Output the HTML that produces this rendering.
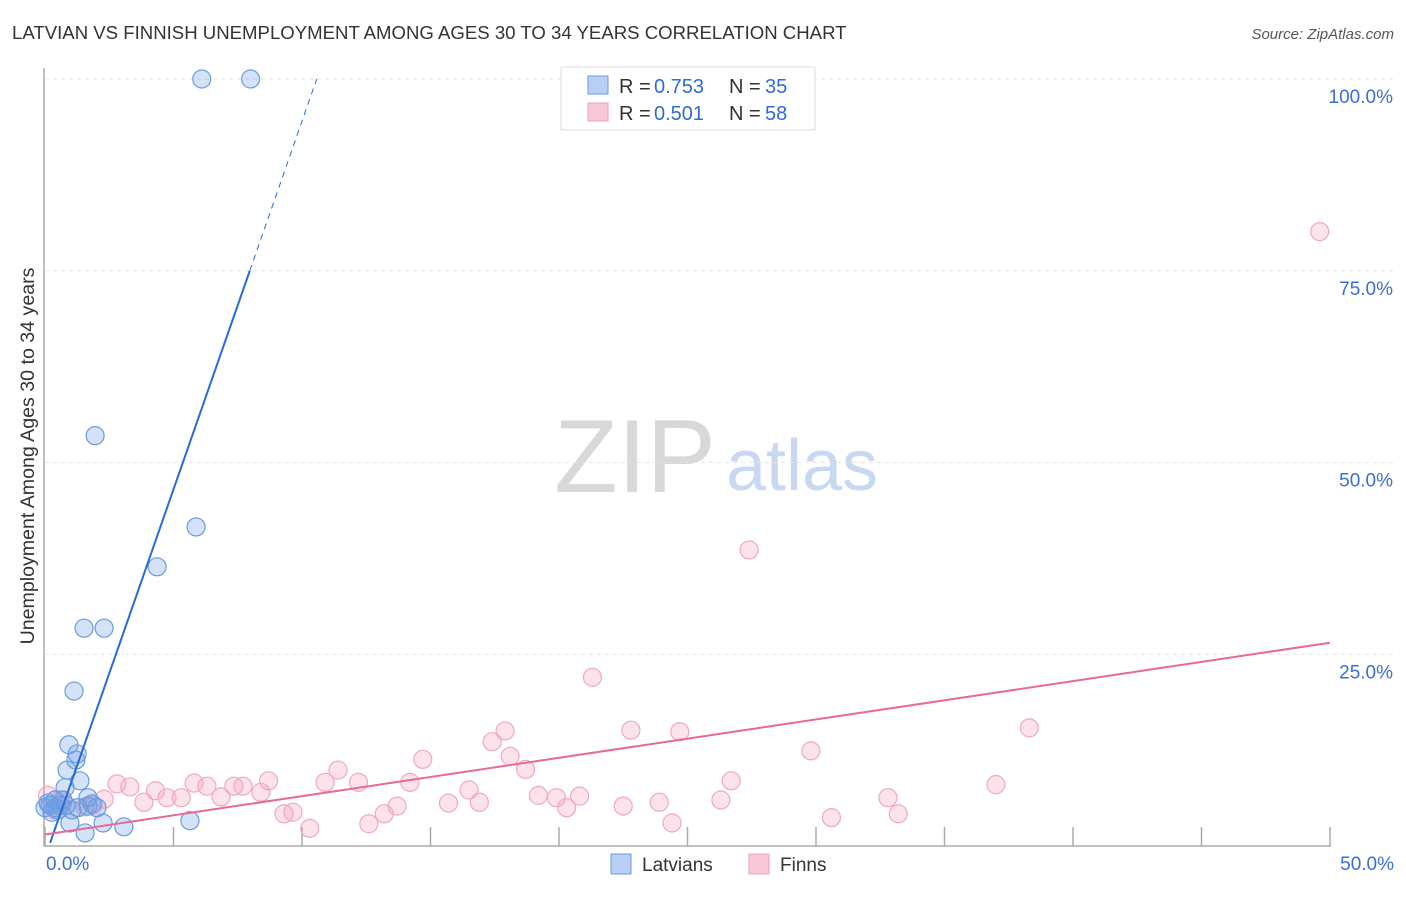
<!DOCTYPE html>
<html><head><meta charset="utf-8"><style>
body{margin:0;background:#fff;font-family:"Liberation Sans",sans-serif;}
svg text{font-family:"Liberation Sans",sans-serif;}
</style></head><body>
<svg id="chart" width="1406" height="892" xmlns="http://www.w3.org/2000/svg">
<text x="12" y="39" font-size="18.6" fill="#333">LATVIAN VS FINNISH UNEMPLOYMENT AMONG AGES 30 TO 34 YEARS CORRELATION CHART</text>
<text x="1394" y="39" font-size="15" fill="#555" text-anchor="end" font-style="italic">Source: ZipAtlas.com</text>
<text transform="translate(34,456) rotate(-90)" font-size="19.6" fill="#333" text-anchor="middle">Unemployment Among Ages 30 to 34 years</text>
<g>
<text x="635" y="492" font-size="104" fill="#d8d8d8" text-anchor="middle" font-family="Liberation Serif,serif">ZIP</text>
<text x="802" y="490" font-size="72" fill="#c8d8f0" text-anchor="middle">atlas</text>
</g>
<g id="grid"></g><g id="axes"></g><g id="pts"></g><g id="lines"></g>
<g>
<rect x="561" y="67" width="254" height="63" fill="#fff" stroke="#ddd"/>
<rect x="588" y="76" width="20" height="18" fill="#b8d0f4" stroke="#6a9ae0"/>
<rect x="588" y="103" width="20" height="18" fill="#f8c8d6" stroke="#f0a0bb"/>
<text x="619" y="93" font-size="20" fill="#333">R =</text>
<text x="654" y="93" font-size="20" fill="#2f6ad6">0.753</text>
<text x="729" y="93" font-size="20" fill="#333">N =</text>
<text x="765" y="93" font-size="20" fill="#2f6ad6">35</text>
<text x="619" y="120" font-size="20" fill="#333">R =</text>
<text x="654" y="120" font-size="20" fill="#2f6ad6">0.501</text>
<text x="729" y="120" font-size="20" fill="#333">N =</text>
<text x="765" y="120" font-size="20" fill="#2f6ad6">58</text>
</g>
<g>
<rect x="611" y="854" width="20" height="20" fill="#b8d0f4" stroke="#6a9ae0"/>
<text x="642" y="871" font-size="19" fill="#333">Latvians</text>
<rect x="749" y="854" width="20" height="20" fill="#f8c8d6" stroke="#f0a0bb"/>
<text x="780" y="871" font-size="19" fill="#333">Finns</text>
</g>
</svg>
<script>
const latX=[6.1,8.0,1.95,4.36,5.88,1.52,2.3,1.13,0.93,1.25,1.2,0.86,1.36,0.78,0.2,0.4,0.58,0,0.7,1.05,1.67,1.83,2.02,0.97,1.56,2.26,3.07,5.64,0.5,0.12,0.27,1.67,1.28,0.82,0.4];
const latY=[100,100,53.5,36.4,41.6,28.4,28.4,20.2,13.2,12.0,11.2,9.9,8.5,7.6,5.3,5.0,5.3,5.0,6.0,4.7,6.3,5.5,5.0,3.0,1.7,3.0,2.5,3.3,4.7,5.6,4.4,5.2,5.0,5.3,6.0];
const finX=[49.6,27.4,21.3,38.3,29.8,22.8,24.7,17.4,17.9,18.1,14.7,18.7,11.4,12.2,10.9,8.7,14.2,16.5,7.7,7.35,6.3,5.8,3.3,2.8,4.3,5.3,4.75,3.85,2.3,6.85,8.4,19.2,19.9,20.8,23.9,26.3,26.7,32.8,37.0,15.7,16.9,13.7,22.5,20.3,13.2,9.3,9.65,10.3,12.6,30.6,33.2,24.4,0.1,0.4,0.66,1.56,1.87,0.58];
const finY=[80.1,38.6,22.0,15.4,12.4,15.1,14.9,13.6,15.0,11.7,11.3,10.0,9.9,8.3,8.3,8.5,8.3,7.3,7.8,7.8,7.8,8.2,7.7,8.1,7.2,6.3,6.3,5.7,6.1,6.4,7.0,6.6,6.3,6.5,5.7,6.0,8.5,6.3,8.0,5.6,5.7,5.2,5.2,5.0,4.2,4.2,4.4,2.3,2.9,3.7,4.2,3.0,6.6,4.7,5.3,5.1,5.3,6.0];
const latTrend=[-1.5,9.6]; // intercept, slope
const finTrend=[1.5,0.5];
const yTicks=[25,50,75,100];
const yTickLabels=["25.0%","50.0%","75.0%","100.0%"];
const xTicks=[0,5,10,15,20,25,30,35,40,45,50];
const NS="http://www.w3.org/2000/svg";
const sx=v=>45+v*25.7, sy=v=>846-v*7.67;
function mk(tag,attrs,parent){const e=document.createElementNS(NS,tag);for(const k in attrs)e.setAttribute(k,attrs[k]);document.getElementById(parent).appendChild(e);return e;}
yTicks.forEach((t,i)=>{
 const g=mk('line',{x1:45,x2:1394,y1:sy(t),y2:sy(t),stroke:'#e4e4e4','stroke-dasharray':'4,4'},'grid');
 
 
 const tx=mk('text',{x:1393,y:sy(t)+24,'font-size':19,fill:'#3b6fd6','text-anchor':'end'},'axes');
 tx.textContent=yTickLabels[i];
 
 
});
const ax=mk('path',{d:`M44 68 V846 H1331`,stroke:'#aaa',fill:'none','stroke-width':1.5},'axes');


xTicks.forEach(t=>{
 const l=mk('line',{x1:sx(t),x2:sx(t),y1:827,y2:846,stroke:'#aaa','stroke-width':1.5},'axes');
 
 
});
[[0,"0.0%","start",46],[50,"50.0%","end",1394]].forEach(a=>{
 const t=mk('text',{x:a[3],y:870,'font-size':19,fill:'#3b6fd6','text-anchor':a[2]},'axes');
 t.textContent=a[1];
 
 
});
finX.forEach((x,i)=>{
 const c=mk('circle',{cx:sx(x),cy:sy(finY[i]),r:9,fill:'rgba(244,160,190,0.3)',stroke:'#f0a8c0','stroke-width':1.2},'pts');
 
 
});
latX.forEach((x,i)=>{
 const c=mk('circle',{cx:sx(x),cy:sy(latY[i]),r:9,fill:'rgba(110,160,230,0.3)',stroke:'#6a9ae0','stroke-width':1.2},'pts');
 
 
});
const lt=x=>latTrend[0]+latTrend[1]*x, ft=x=>finTrend[0]+finTrend[1]*x;
const x75=(75-latTrend[0])/latTrend[1], x100=(100-latTrend[0])/latTrend[1];
const l1=mk('line',{x1:sx(0.2),y1:sy(lt(0.2)),x2:sx(x75),y2:sy(75),stroke:'#2a6ad8','stroke-width':2},'lines');


const l2=mk('line',{x1:sx(x75),y1:sy(75),x2:sx(x100),y2:sy(100),stroke:'#2a6ad8','stroke-width':1,'stroke-dasharray':'6,5'},'lines');


const l3=mk('line',{x1:sx(0),y1:sy(ft(0)),x2:sx(50),y2:sy(ft(50)),stroke:'#e86a94','stroke-width':2},'lines');


</script>
</body></html>
